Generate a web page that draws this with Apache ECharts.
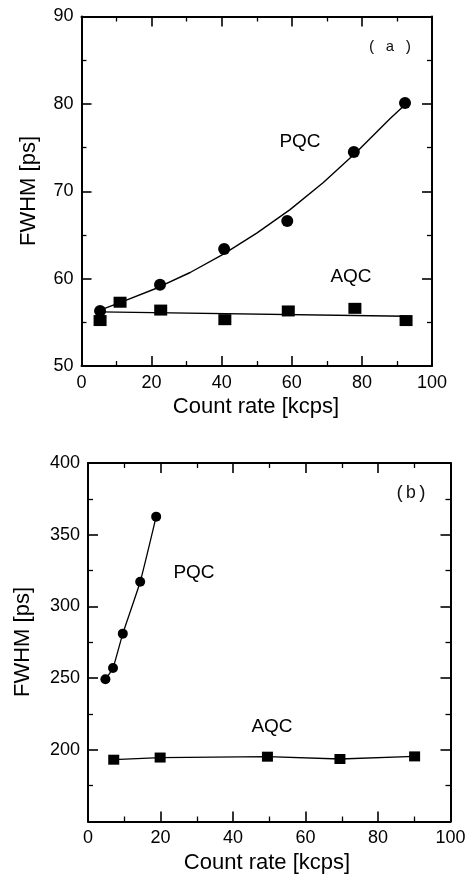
<!DOCTYPE html>
<html>
<head>
<meta charset="utf-8">
<style>
html,body{margin:0;padding:0;background:#fff;}
#chart{width:470px;height:885px;}
</style>
<script src="https://cdn.jsdelivr.net/npm/echarts@6/dist/echarts.min.js"></script>
</head>
<body>
<div id="chart"></div>
<script>
// ---- Panel (a) data ----
const pqcA_x = [5.3, 22.4, 40.7, 58.7, 77.7, 92.3];
const pqcA_y = [56.3, 59.3, 63.4, 66.6, 74.5, 80.1];
const pqcA_sq_x = [11.0];
const pqcA_sq_y = [57.3];
const aqcA_x = [5.3, 22.6, 40.9, 59.0, 78.0, 92.6];
const aqcA_y = [55.2, 56.4, 55.3, 56.3, 56.6, 55.2];
const pqcFitA_x = [5.3, 11.9, 21.4, 31.0, 40.5, 50.0, 59.5, 69.0, 78.5, 88.0, 92.3];
const pqcFitA_y = [56.4, 57.4, 58.9, 60.7, 62.8, 65.2, 67.9, 71.0, 74.5, 78.3, 79.9];
const aqcFitA_x = [5.3, 92.6];
const aqcFitA_y = [56.2, 55.7];

// ---- Panel (b) data ----
const pqcB_x = [4.8, 6.9, 9.6, 14.4, 18.8];
const pqcB_y = [249.2, 257.1, 281.0, 317.2, 362.6];
const aqcB_x = [7.1, 19.9, 49.5, 69.5, 90.1];
const aqcB_y = [193.1, 194.6, 195.2, 193.6, 195.4];

// ---- Axis ticks ----
const xTicks = [0, 20, 40, 60, 80, 100];
const yTicksA = [50, 60, 70, 80, 90];
const yTicksB = [150, 200, 250, 300, 350, 400];

const zip = (xs, ys) => xs.map((x, i) => [x, ys[i]]);

const FONT = "'Liberation Sans', Arial, Helvetica, sans-serif";

function mkAxis(opts) {
  return {
    type: 'value',
    min: opts.min, max: opts.max, interval: opts.interval,
    gridIndex: opts.grid,
    position: opts.position,
    splitLine: {show: false},
    axisLine: {show: true, onZero: false, lineStyle: {color: '#000', width: 2}},
    axisTick: {show: true, inside: true, length: 10, lineStyle: {color: '#000', width: 1.6}},
    minorTick: {show: true, splitNumber: 2, length: 5, lineStyle: {color: '#000', width: 1.3}},
    axisLabel: {
      show: opts.labels,
      color: '#000', fontSize: 18, fontFamily: FONT, margin: 8,
      formatter: opts.formatter || (v => String(v))
    }
  };
}

const chart = echarts.init(document.getElementById('chart'), null, {renderer: 'canvas'});

const sym = {color: '#000', opacity: 1};

const option = {
  animation: false,
  backgroundColor: '#fff',
  grid: [
    {left: 81.5, top: 16.5, width: 350.5, height: 349.5},
    {left: 88, top: 463, width: 362.5, height: 358.5}
  ],
  xAxis: [
    mkAxis({grid: 0, min: xTicks[0], max: xTicks[xTicks.length-1], interval: 20, position: 'bottom', labels: true}),
    mkAxis({grid: 0, min: xTicks[0], max: xTicks[xTicks.length-1], interval: 20, position: 'top', labels: false}),
    mkAxis({grid: 1, min: xTicks[0], max: xTicks[xTicks.length-1], interval: 20, position: 'bottom', labels: true}),
    mkAxis({grid: 1, min: xTicks[0], max: xTicks[xTicks.length-1], interval: 20, position: 'top', labels: false})
  ],
  yAxis: [
    mkAxis({grid: 0, min: yTicksA[0], max: yTicksA[yTicksA.length-1], interval: 10, position: 'left', labels: true}),
    mkAxis({grid: 0, min: yTicksA[0], max: yTicksA[yTicksA.length-1], interval: 10, position: 'right', labels: false}),
    mkAxis({grid: 1, min: yTicksB[0], max: yTicksB[yTicksB.length-1], interval: 50, position: 'left', labels: true,
            formatter: v => (v === 150 ? '' : String(v))}),
    mkAxis({grid: 1, min: yTicksB[0], max: yTicksB[yTicksB.length-1], interval: 50, position: 'right', labels: false})
  ],
  series: [
    // Panel a fits
    {type: 'line', xAxisIndex: 0, yAxisIndex: 0, data: zip(pqcFitA_x, pqcFitA_y), smooth: false,
     showSymbol: false, symbol: 'none', lineStyle: {color: '#000', width: 1.4, join: 'round'}, z: 2},
    {type: 'line', xAxisIndex: 0, yAxisIndex: 0, data: zip(aqcFitA_x, aqcFitA_y),
     showSymbol: false, symbol: 'none', lineStyle: {color: '#000', width: 1.4}, z: 2},
    // Panel a points
    {type: 'scatter', xAxisIndex: 0, yAxisIndex: 0, data: zip(pqcA_x, pqcA_y), symbol: 'circle', symbolSize: 12, itemStyle: sym, z: 3},
    {type: 'scatter', xAxisIndex: 0, yAxisIndex: 0, data: zip(pqcA_sq_x, pqcA_sq_y), symbol: 'rect', symbolSize: [13, 11], itemStyle: sym, z: 3},
    {type: 'scatter', xAxisIndex: 0, yAxisIndex: 0, data: zip(aqcA_x, aqcA_y), symbol: 'rect', symbolSize: [13, 11], itemStyle: sym, z: 3},
    // Panel b
    {type: 'line', xAxisIndex: 2, yAxisIndex: 2, data: zip(pqcB_x, pqcB_y), smooth: 0.15,
     symbol: 'circle', symbolSize: 10, showSymbol: true, itemStyle: sym, lineStyle: {color: '#000', width: 1.3}},
    {type: 'line', xAxisIndex: 2, yAxisIndex: 2, data: zip(aqcB_x, aqcB_y),
     symbol: 'rect', symbolSize: [11, 10], showSymbol: true, itemStyle: sym, lineStyle: {color: '#000', width: 1.3}}
  ],
  graphic: [
    {type: 'text', x: 256, y: 407, style: {text: 'Count rate [kcps]', font: "22px " + FONT, fill: '#000', textAlign: 'center', textVerticalAlign: 'middle'}},
    {type: 'text', x: 29, y: 191, rotation: Math.PI/2, style: {text: 'FWHM [ps]', font: "22px " + FONT, fill: '#000', textAlign: 'center', textVerticalAlign: 'middle'}},
    {type: 'text', x: 267, y: 863, style: {text: 'Count rate [kcps]', font: "22px " + FONT, fill: '#000', textAlign: 'center', textVerticalAlign: 'middle'}},
    {type: 'text', x: 23, y: 642, rotation: Math.PI/2, style: {text: 'FWHM [ps]', font: "22px " + FONT, fill: '#000', textAlign: 'center', textVerticalAlign: 'middle'}},
    {type: 'text', x: 300, y: 142, style: {text: 'PQC', font: "19px " + FONT, fill: '#000', textAlign: 'center', textVerticalAlign: 'middle'}},
    {type: 'text', x: 351, y: 277, style: {text: 'AQC', font: "19px " + FONT, fill: '#000', textAlign: 'center', textVerticalAlign: 'middle'}},
    {type: 'text', x: 194, y: 573, style: {text: 'PQC', font: "19px " + FONT, fill: '#000', textAlign: 'center', textVerticalAlign: 'middle'}},
    {type: 'text', x: 272, y: 727, style: {text: 'AQC', font: "19px " + FONT, fill: '#000', textAlign: 'center', textVerticalAlign: 'middle'}},
    {type: 'text', x: 390, y: 47, style: {text: '( a )', font: "15px 'Liberation Mono', monospace", fill: '#111', textAlign: 'center', textVerticalAlign: 'middle'}},
    {type: 'text', x: 411, y: 493, style: {text: '(b)', font: "18px 'Liberation Mono', monospace", fill: '#111', textAlign: 'center', textVerticalAlign: 'middle'}}
  ]
};
chart.setOption(option);
</script>
</body>
</html>
